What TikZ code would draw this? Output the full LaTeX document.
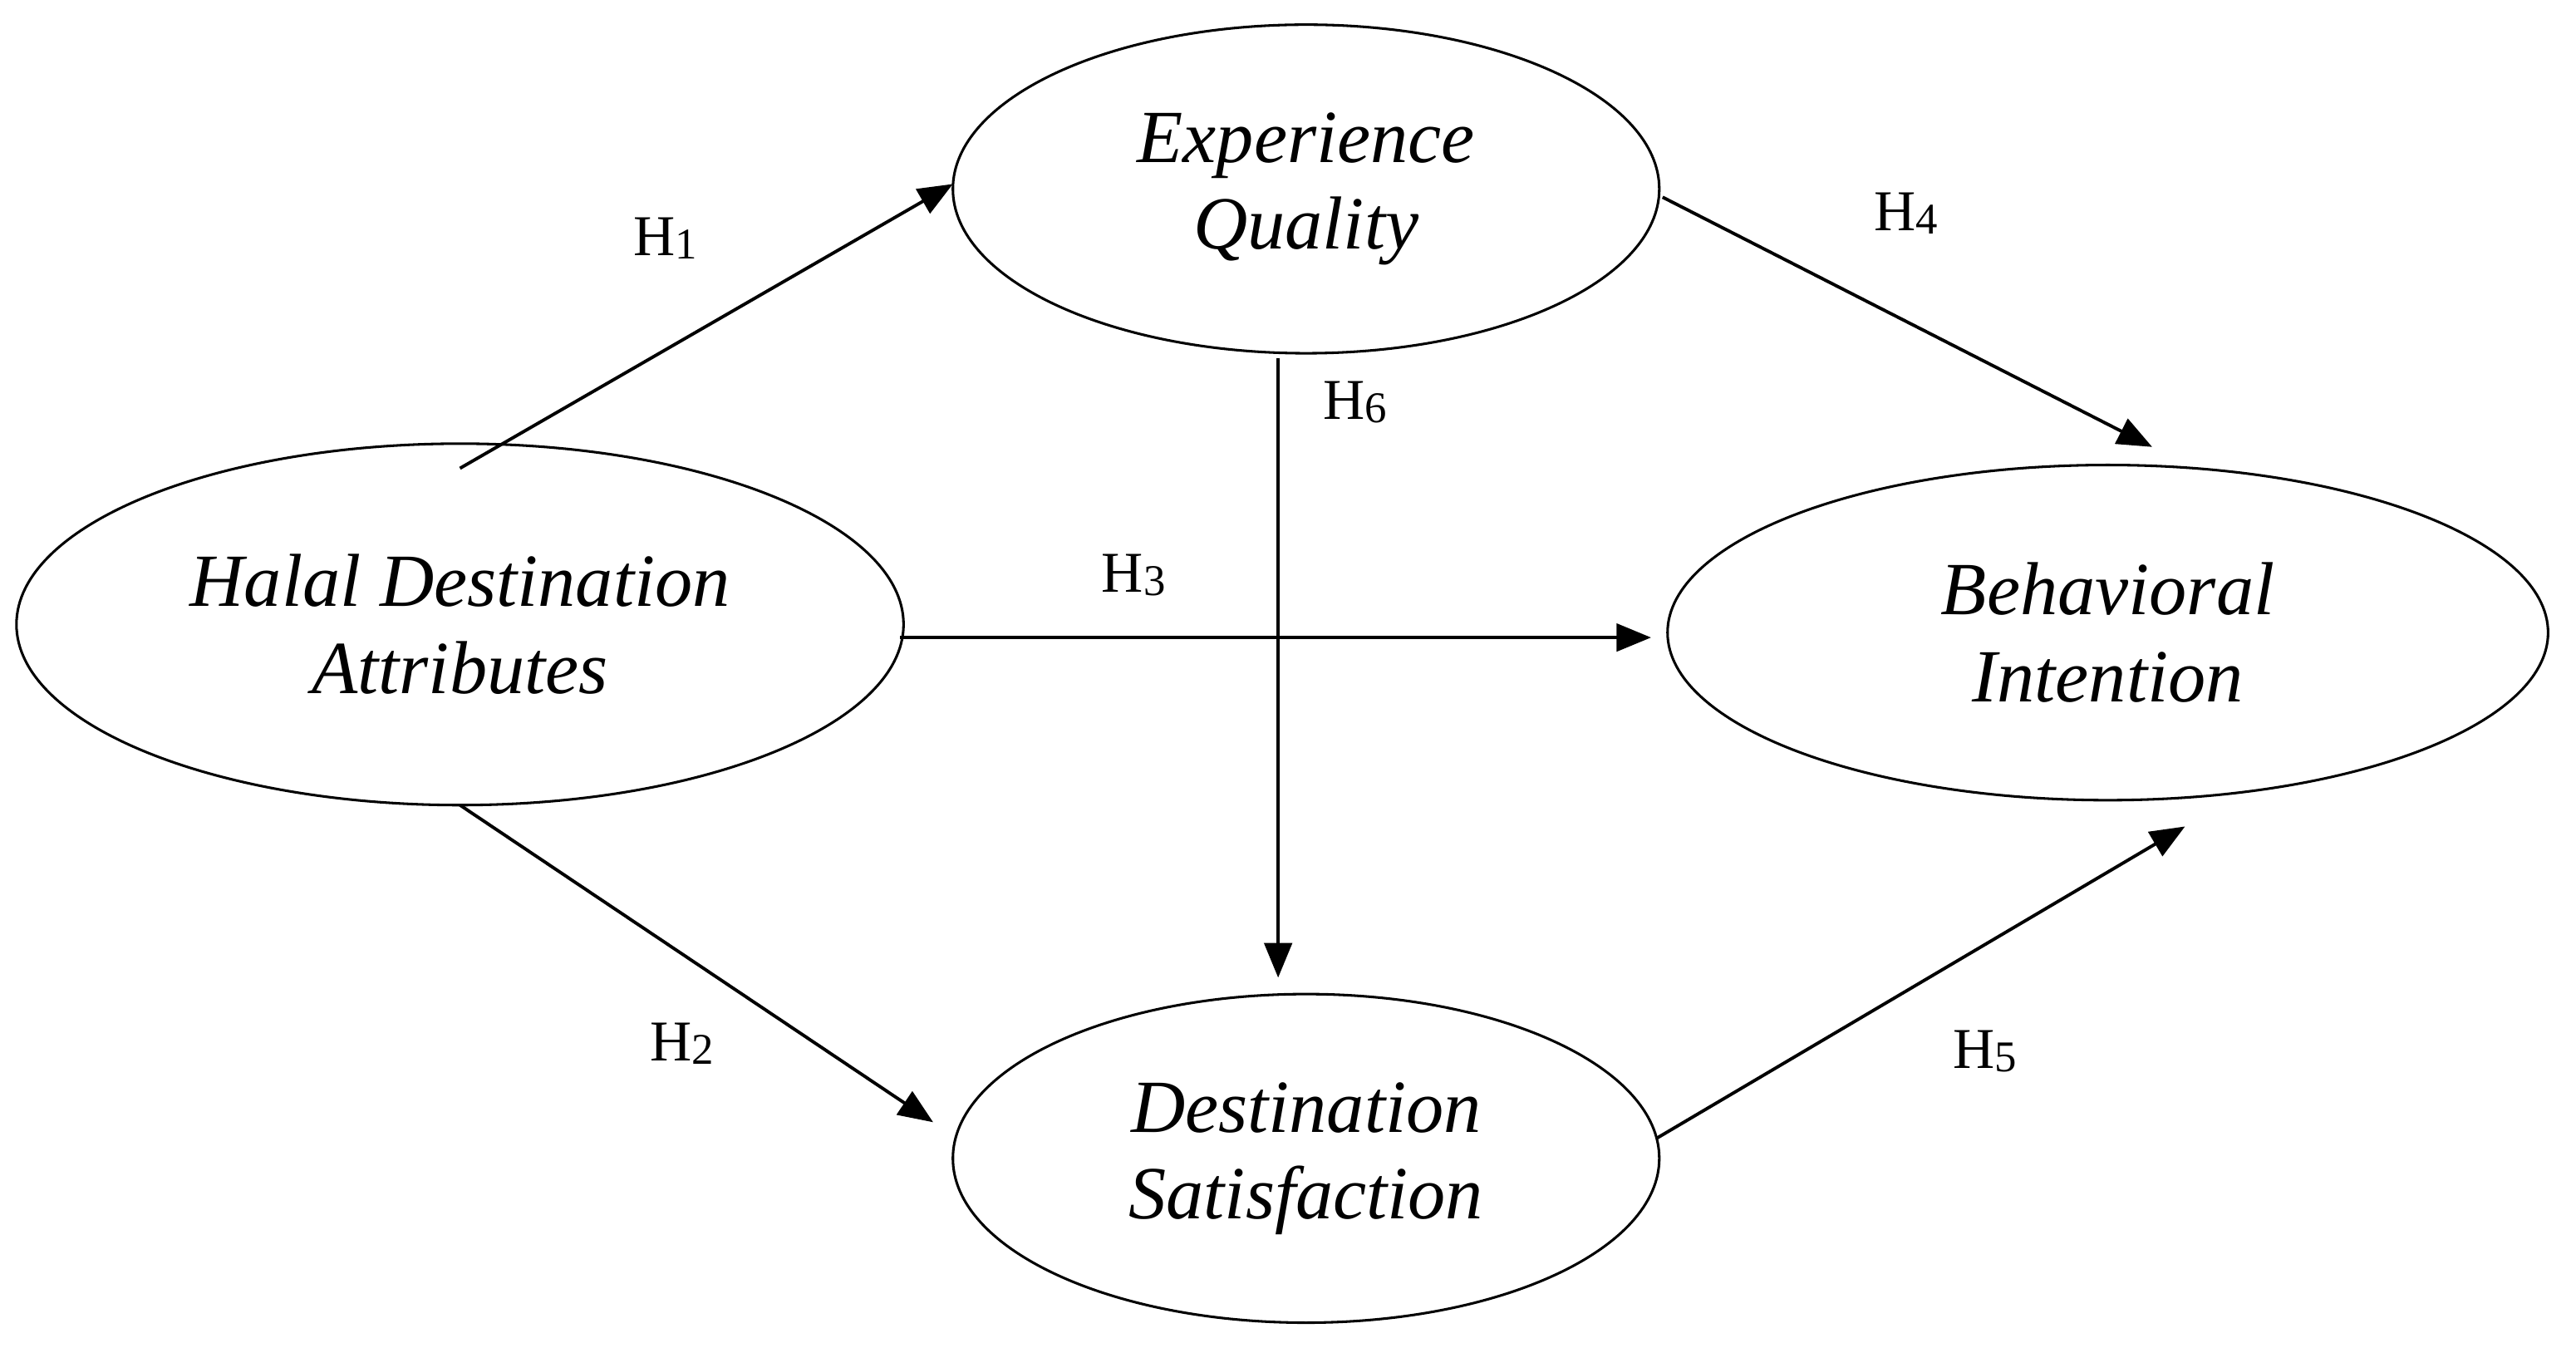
\documentclass[tikz,border=0pt]{standalone}
\usepackage{fontspec}
\setmainfont{Liberation Serif}
\usetikzlibrary{shapes.geometric,arrows.meta}
\newcommand{\hsub}[1]{H\raisebox{-0.12ex}{\fontsize{38}{40}\selectfont #1}}
\begin{document}
\begin{tikzpicture}[x=0.05cm,y=-0.05cm,
  ell/.style={draw, ellipse, line width=2.2pt, inner sep=0pt, font=\fontsize{65}{75}\selectfont\itshape, align=center},
  arr/.style={line width=2.8pt, -{Triangle[length=30pt,width=24pt]}},
  lab/.style={font=\fontsize{50}{54}\selectfont}]
\useasboundingbox (0,0) rectangle (1568,820);
\node[ell, minimum width=27cm, minimum height=11cm] (hda) at (280,380) {Halal Destination\\Attributes};
\node[ell, minimum width=21.5cm, minimum height=10cm] (eq) at (795,115) {Experience\\Quality};
\node[ell, minimum width=26.8cm, minimum height=10.2cm] (bi) at (1283,385) {Behavioral\\Intention};
\node[ell, minimum width=21.5cm, minimum height=10cm] (ds) at (795,705) {Destination\\Satisfaction};
\coordinate (a1) at (280,285); \coordinate (b1) at (580,112);
\coordinate (a2) at (280,490); \coordinate (b2) at (568,683);
\coordinate (a3) at (548,388); \coordinate (b3) at (1005,388);
\coordinate (a4) at (1012,120); \coordinate (b4) at (1310,272);
\coordinate (a5) at (1008,693); \coordinate (b5) at (1330,503);
\coordinate (a6) at (778,218); \coordinate (b6) at (778,595);
\draw[arr] (a1) -- (b1);
\draw[arr] (a2) -- (b2);
\draw[arr] (a3) -- (b3);
\draw[arr] (a4) -- (b4);
\draw[arr] (a5) -- (b5);
\draw[arr] (a6) -- (b6);
\node[lab] (h1) at (405,145) {\hsub{1}};
\node[lab] (h2) at (415,635) {\hsub{2}};
\node[lab] (h3) at (690,350) {\hsub{3}};
\node[lab] (h4) at (1160,130) {\hsub{4}};
\node[lab] (h5) at (1208,640) {\hsub{5}};
\node[lab] (h6) at (825,245) {\hsub{6}};
\end{tikzpicture}
\end{document}
